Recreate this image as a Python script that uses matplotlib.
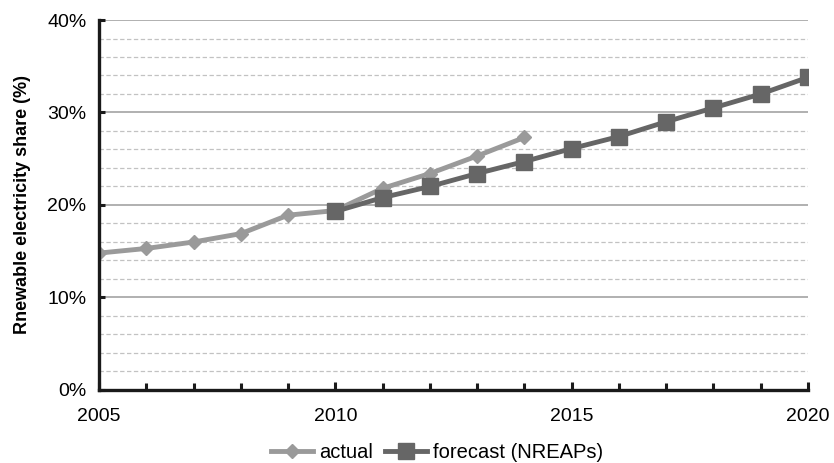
import matplotlib
matplotlib.use("Agg")
import matplotlib.pyplot as plt
from matplotlib.lines import Line2D
import numpy as np

plt.rcParams['font.family'] = ['Liberation Sans', 'DejaVu Sans']

# Renewable electricity share, EU
years_actual = [2005, 2006, 2007, 2008, 2009, 2010, 2011, 2012, 2013, 2014]
share_actual = [14.8, 15.3, 16.0, 16.9, 18.9, 19.4, 21.8, 23.4, 25.3, 27.3]

years_forecast = [2010, 2011, 2012, 2013, 2014, 2015, 2016, 2017, 2018, 2019, 2020]
share_forecast = [19.3, 20.8, 22.0, 23.4, 24.7, 26.1, 27.4, 29.0, 30.5, 32.0, 33.8]

x_ticks = [2005, 2010, 2015, 2020]
y_ticks = [0, 10, 20, 30, 40]
y_tick_labels = ["0%", "10%", "20%", "30%", "40%"]

c_actual = "#9a9a9a"
c_forecast = "#666666"

fig = plt.figure(figsize=(8.34, 4.63), dpi=100)
ax = fig.add_axes([0.1187, 0.1577, 0.8501, 0.7991])

# gridlines: solid every 10 %, dashed every 2 %
for y in np.arange(2, 40, 2):
    if y % 10:
        ax.axhline(y, color="#c2c2c2", lw=0.9, ls=(0, (3.5, 2)), zorder=1)
for y in (10, 20, 30, 40):
    ax.axhline(y, color="#a3a3a3", lw=1.2, zorder=1)

ax.plot(years_actual, share_actual, color=c_actual, lw=3.5, marker="D",
        markersize=7.5, zorder=3, solid_joinstyle="round")
ax.plot(years_forecast, share_forecast, color=c_forecast, lw=3.5, marker="s",
        markersize=11.5, zorder=4)

ax.set_xlim(2005, 2020)
ax.set_ylim(0, 40)
ax.set_xticks(x_ticks)
ax.set_xticks(range(2005, 2021), minor=True)
ax.set_yticks(y_ticks)
ax.set_yticklabels(y_tick_labels)

for s in ("top", "right"):
    ax.spines[s].set_visible(False)
for s in ("left", "bottom"):
    ax.spines[s].set_linewidth(2.4)
    ax.spines[s].set_color("#1a1a1a")
    ax.spines[s].set_zorder(5)

ax.tick_params(axis="x", which="major", direction="in", length=6, width=2.2,
               color="#1a1a1a", labelsize=14, pad=13)
ax.tick_params(axis="x", which="minor", direction="in", length=5, width=2.2,
               color="#1a1a1a")
ax.tick_params(axis="y", which="major", direction="in", length=4, width=2.2,
               color="#1a1a1a", labelsize=14, pad=9)

ax.set_ylabel("Rnewable electricity share (%)", fontsize=13, fontweight="bold",
              labelpad=12)

handles = [
    Line2D([], [], color=c_actual, lw=3.5, marker="D", markersize=7.5),
    Line2D([], [], color=c_forecast, lw=3.5, marker="s", markersize=11.5),
]
fig.legend(handles, ["actual", "forecast (NREAPs)"], loc="center",
           bbox_to_anchor=(0.524, 0.022), ncol=2, frameon=False, fontsize=14.5,
           handlelength=2.1, handletextpad=0.3, columnspacing=0.6)

fig.savefig("out.png", dpi=100)
